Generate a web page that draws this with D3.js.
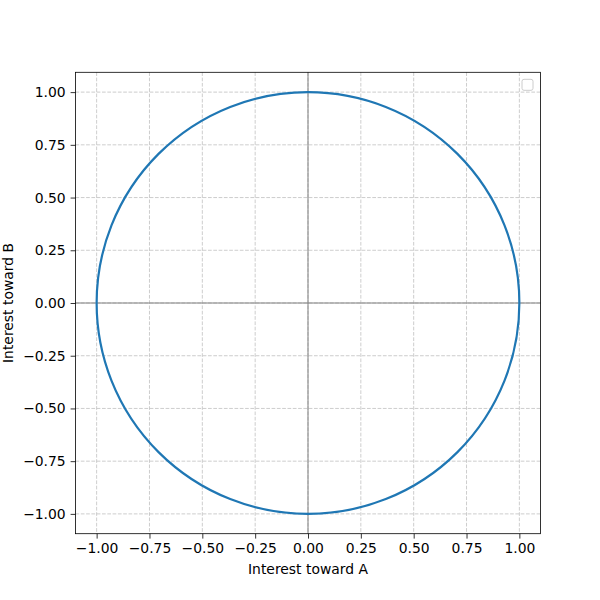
<!DOCTYPE html>
<html lang="en">
<head>
<meta charset="UTF-8">
<title>Interest circle</title>
<script src="https://cdnjs.cloudflare.com/ajax/libs/d3/7.8.5/d3.min.js"></script>
<style>
  body { margin: 0; background: #fff; }
  text { font-family: "DejaVu Sans", sans-serif; }
</style>
</head>
<body>
<div id="chart"></div>
<script>
    // data
    var xDomain = [-1.1, 1.1];
    var yDomain = [-1.094, 1.094];
    var xTicks = [-1.0, -0.75, -0.5, -0.25, 0, 0.25, 0.5, 0.75, 1.0];
    var yTicks = [-1.0, -0.75, -0.5, -0.25, 0, 0.25, 0.5, 0.75, 1.0];
    var circleCenter = [0, 0];
    var circleRadius = [1];
    var xLabel = "Interest toward A";
    var yLabel = "Interest toward B";

    var margin = {top: 72.3, right: 59.5, bottom: 66.3, left: 75.5},
        width = 600 - margin.left - margin.right,
        height = 600 - margin.top - margin.bottom;

    var svg = d3.select("#chart").append("svg")
        .attr("width", 600)
        .attr("height", 600)
        .append("g")
        .attr("transform", "translate(" + margin.left + "," + margin.top + ")");

    var x = d3.scaleLinear().domain(xDomain).range([0, width]);
    var y = d3.scaleLinear().domain(yDomain).range([height, 0]);

    var fmt = function (d) { return d3.format(".2f")(d).replace("-", "\u2212"); };

    // grid
    svg.append("g").selectAll("line").data(xTicks).enter().append("line")
        .attr("x1", function (d) { return x(d); }).attr("x2", function (d) { return x(d); })
        .attr("y1", 0).attr("y2", height)
        .attr("stroke", "#b0b0b0").attr("stroke-opacity", 0.8)
        .attr("stroke-width", 0.8).attr("stroke-dasharray", "3.7,1.6");
    svg.append("g").selectAll("line").data(yTicks).enter().append("line")
        .attr("y1", function (d) { return y(d); }).attr("y2", function (d) { return y(d); })
        .attr("x1", 0).attr("x2", width)
        .attr("stroke", "#b0b0b0").attr("stroke-opacity", 0.8)
        .attr("stroke-width", 0.8).attr("stroke-dasharray", "3.7,1.6");

    // zero lines
    svg.append("line")
        .attr("x1", x(0)).attr("x2", x(0)).attr("y1", 0).attr("y2", height)
        .attr("stroke", "gray").attr("stroke-width", 1);
    svg.append("line")
        .attr("y1", y(0)).attr("y2", y(0)).attr("x1", 0).attr("x2", width)
        .attr("stroke", "gray").attr("stroke-width", 1);

    // circle
    svg.append("ellipse")
        .attr("cx", x(circleCenter[0]))
        .attr("cy", y(circleCenter[1]))
        .attr("rx", x(circleRadius[0]) - x(0))
        .attr("ry", y(0) - y(circleRadius[0]))
        .attr("fill", "none")
        .attr("stroke", "#1f77b4")
        .attr("stroke-width", 2.2);

    // axes
    var xAxis = d3.axisBottom(x).tickValues(xTicks).tickFormat(fmt).tickSize(4.9).tickPadding(4.9);
    var yAxis = d3.axisLeft(y).tickValues(yTicks).tickFormat(fmt).tickSize(4.9).tickPadding(4.9);

    var gx = svg.append("g")
        .attr("transform", "translate(0," + height + ")")
        .call(xAxis);
    var gy = svg.append("g").call(yAxis);
    [gx, gy].forEach(function (g) {
        g.select(".domain").remove();
        g.selectAll("line").attr("stroke", "#000").attr("stroke-width", 0.8);
        g.selectAll("text").attr("font-size", "13.9px").attr("fill", "#000")
            .style("font-family", "DejaVu Sans, sans-serif");
    });

    // frame
    svg.append("rect")
        .attr("width", width).attr("height", height)
        .attr("fill", "none").attr("stroke", "#000").attr("stroke-width", 0.8);

    // empty legend
    svg.append("rect")
        .attr("x", width - 18.5).attr("y", 7)
        .attr("width", 11).attr("height", 11)
        .attr("rx", 2).attr("ry", 2)
        .attr("fill", "#fff").attr("fill-opacity", 0.8)
        .attr("stroke", "#ccc").attr("stroke-width", 1);

    // labels
    svg.append("text")
        .attr("x", width / 2).attr("y", height + 40.5)
        .attr("text-anchor", "middle")
        .attr("font-size", "13.9px")
        .text(xLabel);
    svg.append("text")
        .attr("transform", "rotate(-90)")
        .attr("x", -height / 2).attr("y", -63)
        .attr("text-anchor", "middle")
        .attr("font-size", "13.9px")
        .text(yLabel);
</script>
</body>
</html>
